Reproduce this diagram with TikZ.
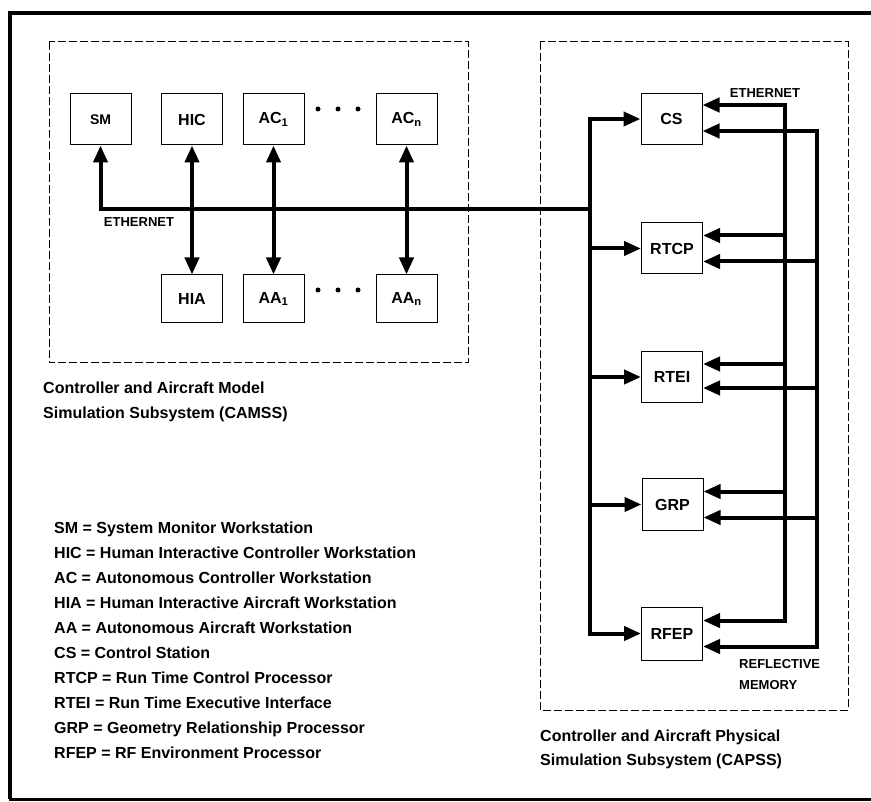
\documentclass[tikz,border=0pt]{standalone}
\usepackage{fontspec}
\setmainfont{Liberation Sans}
\usetikzlibrary{arrows.meta}
\begin{document}
\begin{tikzpicture}[x=1pt,y=-1pt,
  box/.style={draw,line width=1pt,minimum width=61pt,minimum height=51pt,inner sep=0pt,font=\bfseries\fontsize{16}{16}\selectfont},
  bus/.style={line width=4pt},
  tip/.style={-{Triangle[length=17pt,width=14pt]}},
  dtip/.style={{Triangle[length=17pt,width=14pt]}-{Triangle[length=17pt,width=14pt]}},
  region/.style={draw,line width=1pt,dash pattern=on 8pt off 3pt},
  txt/.style={font=\bfseries\fontsize{16}{16}\selectfont,inner sep=0pt},
  smalllbl/.style={font=\bfseries\fontsize{13}{13}\selectfont,inner sep=0pt},
  bullet/.style={fill,circle,inner sep=0pt,minimum size=5pt}]
\useasboundingbox (0,0) rectangle (871,802);
% outer frame
\draw[line width=4pt] (880,13) -- (10,13) -- (10,799);
\draw[line width=3pt] (8.5,799) -- (880,799);
% subsystem regions
\draw[region] (49,42) rectangle (468,363);
\draw[region] (540,42) rectangle (848,710);
% CAMSS boxes
\node[box,font=\bfseries\fontsize{14}{14}\selectfont] (SM) at (100.5,119.5) {SM};
\node[box] (HIC) at (192,119.5) {HIC};
\node[box] (AC1) at (273.5,119.5) {AC\textsubscript{1}};
\node[box] (ACn) at (406.5,119.5) {AC\textsubscript{n}};
\node[box,minimum height=48pt] (HIA) at (192,299) {HIA};
\node[box,minimum height=48pt] (AA1) at (273.5,299) {AA\textsubscript{1}};
\node[box,minimum height=48pt] (AAn) at (406.5,299) {AA\textsubscript{n}};
\node[bullet] (d1) at (318,109) {};
\node[bullet] (d2) at (338,109) {};
\node[bullet] (d3) at (358,109) {};
\node[bullet] (d4) at (318,290) {};
\node[bullet] (d5) at (338,290) {};
\node[bullet] (d6) at (358,290) {};
% CAPSS boxes
\node[box] (CS) at (671.5,119) {CS};
\node[box] (RTCP) at (672,248.5) {RTCP};
\node[box] (RTEI) at (672,377) {RTEI};
\node[box] (GRP) at (672.5,504.5) {GRP};
\node[box,minimum height=53pt] (RFEP) at (672,633.5) {RFEP};
% ethernet between subsystems
\coordinate (bj) at (590,209);
\draw[bus,tip] (bj) -| (SM.south);
\draw[bus,tip] (bj) |- (CS.west);
\draw[bus,tip] (bj) |- (RFEP.west);
\draw[bus,tip] (bj |- RTCP.west) -- (RTCP.west);
\draw[bus,tip] (bj |- RTEI.west) -- (RTEI.west);
\draw[bus,tip] (bj |- GRP.west) -- (GRP.west);
\node[smalllbl] (eth1) at (139,222) {ETHERNET};
% workstation links
\draw[bus,dtip] (HIC.south) -- (HIA.north);
\draw[bus,dtip] (AC1.south) -- (AA1.north);
\draw[bus,dtip] (ACn.south) -- (AAn.north);
% right-hand ethernet
\coordinate (er) at (785,400);
\draw[bus,tip] (er) |- ([yshift=14pt]CS.east);
\draw[bus,tip] (er) |- ([yshift=13pt]RFEP.east);
\draw[bus,tip] ([yshift=13pt]RTCP.east -| er) -- ([yshift=13pt]RTCP.east);
\draw[bus,tip] ([yshift=13pt]RTEI.east -| er) -- ([yshift=13pt]RTEI.east);
\draw[bus,tip] ([yshift=13pt]GRP.east -| er) -- ([yshift=13pt]GRP.east);
\node[smalllbl] (eth2) at (765,93) {ETHERNET};
% reflective memory
\coordinate (rm) at (817,400);
\draw[bus,tip] (rm) |- ([yshift=-12pt]CS.east);
\draw[bus,tip] (rm) |- ([yshift=-13pt]RFEP.east);
\draw[bus,tip] ([yshift=-13pt]RTCP.east -| rm) -- ([yshift=-13pt]RTCP.east);
\draw[bus,tip] ([yshift=-11pt]RTEI.east -| rm) -- ([yshift=-11pt]RTEI.east);
\draw[bus,tip] ([yshift=-13pt]GRP.east -| rm) -- ([yshift=-13pt]GRP.east);
\node[smalllbl,anchor=base west] (rm1) at (739,668) {REFLECTIVE};
\node[smalllbl,anchor=base west] (rm2) at (739,689) {MEMORY};
% captions
\node[txt,anchor=base west] (c1) at (43,394) {Controller and Aircraft Model};
\node[txt,anchor=base west] (c2) at (43,419) {Simulation Subsystem (CAMSS)};
\node[txt,anchor=base west] (c3) at (540,741) {Controller and Aircraft Physical};
\node[txt,anchor=base west] (c4) at (540,765) {Simulation Subsystem (CAPSS)};
% legend
\node[txt,anchor=base west] (l1) at (54,533) {SM = System Monitor Workstation};
\node[txt,anchor=base west] (l2) at (54,558) {HIC = Human Interactive Controller Workstation};
\node[txt,anchor=base west] (l3) at (54,583) {AC = Autonomous Controller Workstation};
\node[txt,anchor=base west] (l4) at (54,608) {HIA = Human Interactive Aircraft Workstation};
\node[txt,anchor=base west] (l5) at (54,633) {AA = Autonomous Aircraft Workstation};
\node[txt,anchor=base west] (l6) at (54,658) {CS = Control Station};
\node[txt,anchor=base west] (l7) at (54,683) {RTCP = Run Time Control Processor};
\node[txt,anchor=base west] (l8) at (54,708) {RTEI = Run Time Executive Interface};
\node[txt,anchor=base west] (l9) at (54,733) {GRP = Geometry Relationship Processor};
\node[txt,anchor=base west] (l10) at (54,758) {RFEP = RF Environment Processor};
\end{tikzpicture}
\end{document}
